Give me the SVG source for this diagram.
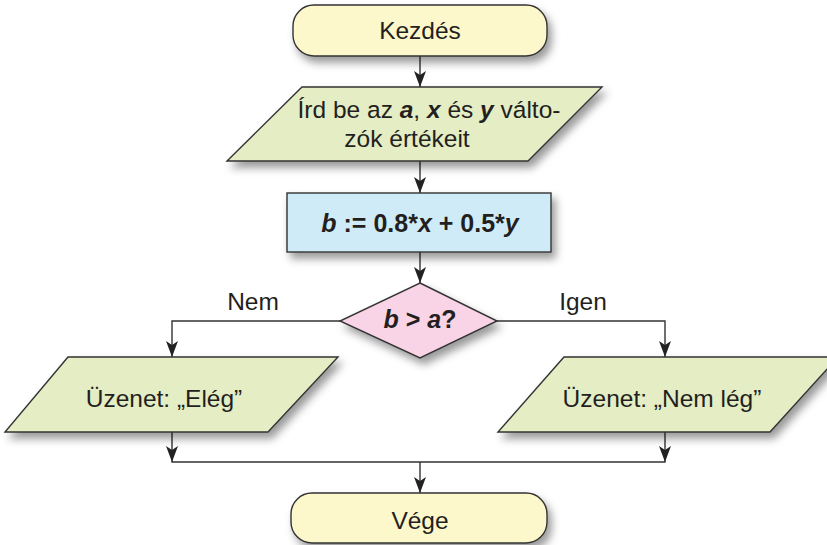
<svg xmlns="http://www.w3.org/2000/svg" width="827" height="545" viewBox="0 0 827 545">
<style>
text{font-family:"Liberation Sans",Arial,sans-serif;font-size:24.5px;fill:#231f20}
.c{text-anchor:middle}
.b{font-weight:bold;font-size:25px}
.bi{font-weight:bold;font-style:italic}
.shape{stroke:#333;stroke-width:1.4;filter:url(#sh)}
.term{fill:#fdf8cb}
.io{fill:#e4edc4}
.proc{fill:#d0ebf8}
.dec{fill:#f8d4e6}
.conn path{fill:none;stroke:#333;stroke-width:1.4}
</style>
<defs>
<filter id="sh" x="-20%" y="-30%" width="150%" height="180%">
<feDropShadow dx="4" dy="6" stdDeviation="4" flood-color="#000" flood-opacity="0.4"/>
</filter>
</defs>
<g class="conn" id="connectors">
<path d="M420,56 V87"/>
<path d="M420,161 V193"/>
<path d="M420,252 V283"/>
<path d="M340,321 H172 V357"/>
<path d="M497,321 H665 V357"/>
<path d="M172,432 V462 H665 V432"/>
<path d="M420,462 V493"/>
</g>
<g id="arrowheads" fill="#222">
<path d="M414,71 L420,75 L426,71 L420,87 Z"/>
<path d="M414,177 L420,181 L426,177 L420,193 Z"/>
<path d="M414,267 L420,271 L426,267 L420,283 Z"/>
<path d="M166,341 L172,345 L178,341 L172,357 Z"/>
<path d="M659,341 L665,345 L671,341 L665,357 Z"/>
<path d="M166,446 L172,450 L178,446 L172,462 Z"/>
<path d="M659,446 L665,450 L671,446 L665,462 Z"/>
<path d="M414,477 L420,481 L426,477 L420,493 Z"/>
</g>
<g id="start">
<rect class="shape term" x="293" y="5" width="254" height="51" rx="21"/>
<text class="c" x="420" y="39">Kezdés</text>
</g>
<g id="input">
<polygon class="shape io" points="302,87 602,87 528,161 227,161"/>
<text class="c" x="429" y="118">Írd be az <tspan class="bi">a</tspan>, <tspan class="bi">x</tspan> és <tspan class="bi">y</tspan> válto-</text>
<text class="c" x="407" y="147">zók értékeit</text>
</g>
<g id="process">
<rect class="shape proc" x="287" y="193" width="264" height="59"/>
<text class="c b" x="420" y="232"><tspan class="bi">b</tspan> := 0.8*<tspan class="bi">x</tspan> + 0.5*<tspan class="bi">y</tspan></text>
</g>
<g id="decision">
<polygon class="shape dec" points="420,283 497,321 420,358 340,321"/>
<text class="c b" x="420" y="328"><tspan class="bi">b</tspan> &gt; <tspan class="bi">a</tspan>?</text>
</g>
<g id="label-nem"><text class="c" x="253" y="310">Nem</text></g>
<g id="label-igen"><text class="c" x="583" y="310">Igen</text></g>
<g id="out-left">
<polygon class="shape io" points="68,357 338,357 268,432 5,432"/>
<text class="c" x="164" y="407">Üzenet: „Elég”</text>
</g>
<g id="out-right">
<polygon class="shape io" points="564,357 838,357 770,432 498,432"/>
<text class="c" x="662" y="407">Üzenet: „Nem lég”</text>
</g>
<g id="end">
<rect class="shape term" x="291" y="493" width="256" height="50" rx="21"/>
<text class="c" x="420" y="529">Vége</text>
</g>
</svg>
